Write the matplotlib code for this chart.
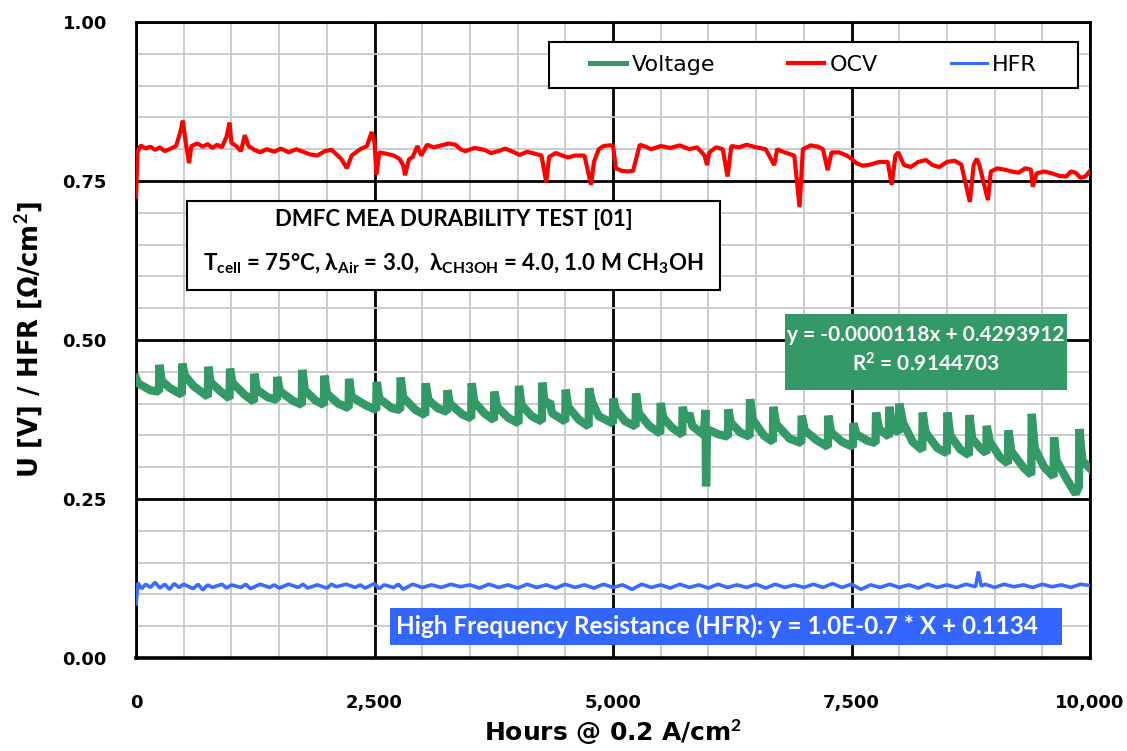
import matplotlib
matplotlib.use("Agg")
import matplotlib.pyplot as plt
from matplotlib.patches import Rectangle
from matplotlib.lines import Line2D
from matplotlib.ticker import MultipleLocator, FuncFormatter

plt.rcParams["font.family"] = ["Lato", "DejaVu Sans"]
plt.rcParams["mathtext.fontset"] = "custom"
plt.rcParams["mathtext.rm"] = "Lato"
plt.rcParams["mathtext.bf"] = "Lato:bold"
plt.rcParams["mathtext.it"] = "Lato:bold"
plt.rcParams["mathtext.default"] = "bf"

# --- data (hours, value) ---
voltage_points = [
    (0, 0.440), (20, 0.432), (150, 0.421), (240, 0.419), (245, 0.461), (270, 0.436),
    (350, 0.425), (480, 0.414), (485, 0.463), (510, 0.445), (600, 0.428), (752, 0.411),
    (758, 0.458), (780, 0.434), (880, 0.420), (980, 0.408), (985, 0.455), (1010, 0.433),
    (1130, 0.415), (1235, 0.403), (1240, 0.447), (1265, 0.422), (1380, 0.410), (1476, 0.406),
    (1481, 0.442), (1505, 0.420), (1640, 0.405), (1738, 0.398), (1743, 0.453), (1770, 0.421),
    (1880, 0.405), (1969, 0.398), (1974, 0.444), (2000, 0.416), (2120, 0.400), (2228, 0.393),
    (2233, 0.439), (2260, 0.411), (2400, 0.398), (2518, 0.390), (2523, 0.434), (2550, 0.408),
    (2680, 0.393), (2769, 0.390), (2774, 0.441), (2800, 0.410), (2930, 0.390), (3031, 0.382),
    (3036, 0.432), (3065, 0.406), (3160, 0.393), (3259, 0.387), (3264, 0.421), (3290, 0.400),
    (3420, 0.383), (3513, 0.377), (3518, 0.432), (3545, 0.403), (3650, 0.385), (3751, 0.374),
    (3756, 0.419), (3785, 0.395), (3900, 0.378), (4009, 0.369), (4014, 0.428), (4040, 0.398),
    (4150, 0.380), (4254, 0.372), (4259, 0.433), (4285, 0.398), (4340, 0.403), (4360, 0.385),
    (4499, 0.372), (4504, 0.422), (4530, 0.395), (4640, 0.375), (4744, 0.364), (4749, 0.424),
    (4780, 0.403), (4850, 0.380), (4998, 0.369), (5003, 0.408), (5030, 0.390), (5130, 0.372),
    (5236, 0.364), (5241, 0.416), (5270, 0.385), (5380, 0.365), (5495, 0.353), (5500, 0.401),
    (5525, 0.378), (5620, 0.362), (5725, 0.351), (5730, 0.395), (5760, 0.372), (5800, 0.385),
    (5830, 0.365), (5950, 0.351), (5970, 0.390), (5975, 0.270), (5985, 0.360), (6100, 0.352),
    (6204, 0.348), (6209, 0.391), (6235, 0.370), (6330, 0.355), (6431, 0.348), (6436, 0.407),
    (6465, 0.375), (6580, 0.350), (6675, 0.340), (6680, 0.395), (6710, 0.368), (6850, 0.345),
    (6973, 0.338), (6978, 0.381), (7010, 0.358), (7130, 0.343), (7252, 0.332), (7257, 0.381),
    (7285, 0.355), (7400, 0.340), (7514, 0.332), (7519, 0.369), (7550, 0.352), (7660, 0.342),
    (7752, 0.338), (7757, 0.386), (7790, 0.360), (7891, 0.348), (7896, 0.395), (7930, 0.360),
    (7996, 0.355), (8001, 0.400), (8040, 0.370), (8140, 0.340), (8241, 0.327), (8246, 0.386),
    (8275, 0.355), (8400, 0.330), (8500, 0.322), (8505, 0.386), (8535, 0.350), (8640, 0.328),
    (8730, 0.319), (8735, 0.382), (8765, 0.345), (8850, 0.330), (8912, 0.322), (8917, 0.365),
    (8950, 0.340), (9060, 0.315), (9139, 0.306), (9144, 0.358), (9175, 0.325), (9300, 0.300),
    (9384, 0.288), (9389, 0.384), (9420, 0.330), (9520, 0.300), (9618, 0.285), (9623, 0.347),
    (9650, 0.310), (9760, 0.280), (9850, 0.258), (9883, 0.270), (9888, 0.360), (9920, 0.310),
    (10000, 0.298),
]

ocv_points = [
    (0, 0.725), (15, 0.795), (50, 0.806), (100, 0.801), (150, 0.804), (200, 0.799),
    (250, 0.803), (300, 0.797), (350, 0.800), (420, 0.805), (470, 0.830), (490, 0.845),
    (520, 0.812), (555, 0.778), (580, 0.805), (640, 0.809), (700, 0.804), (750, 0.808),
    (800, 0.802), (850, 0.807), (900, 0.803), (950, 0.820), (980, 0.842), (1000, 0.810),
    (1050, 0.805), (1100, 0.797), (1140, 0.822), (1180, 0.805), (1240, 0.799), (1300, 0.795),
    (1370, 0.800), (1450, 0.796), (1520, 0.801), (1600, 0.795), (1680, 0.800), (1750, 0.796),
    (1820, 0.792), (1900, 0.790), (1980, 0.797), (2050, 0.799), (2150, 0.785), (2210, 0.770),
    (2260, 0.790), (2350, 0.800), (2420, 0.805), (2470, 0.827), (2500, 0.810), (2520, 0.760),
    (2550, 0.795), (2620, 0.793), (2700, 0.790), (2760, 0.785), (2800, 0.775), (2820, 0.759),
    (2860, 0.784), (2900, 0.788), (2950, 0.805), (2990, 0.790), (3050, 0.807), (3120, 0.803),
    (3200, 0.806), (3280, 0.809), (3350, 0.807), (3400, 0.800), (3450, 0.797), (3550, 0.802),
    (3650, 0.799), (3720, 0.794), (3800, 0.797), (3870, 0.801), (3950, 0.796), (4020, 0.791),
    (4100, 0.796), (4180, 0.793), (4250, 0.790), (4300, 0.748), (4330, 0.788), (4400, 0.794),
    (4450, 0.791), (4530, 0.787), (4600, 0.790), (4700, 0.790), (4770, 0.744), (4800, 0.780),
    (4850, 0.800), (4900, 0.805), (4960, 0.806), (5000, 0.806), (5030, 0.770), (5090, 0.766),
    (5150, 0.765), (5210, 0.766), (5280, 0.807), (5340, 0.804), (5400, 0.800), (5500, 0.805),
    (5600, 0.802), (5700, 0.806), (5800, 0.800), (5880, 0.803), (5960, 0.790), (5985, 0.775),
    (6010, 0.795), (6080, 0.803), (6150, 0.800), (6200, 0.757), (6240, 0.805), (6320, 0.803),
    (6400, 0.807), (6500, 0.803), (6600, 0.800), (6690, 0.775), (6720, 0.800), (6800, 0.795),
    (6900, 0.790), (6955, 0.709), (6990, 0.800), (7070, 0.806), (7150, 0.804), (7200, 0.800),
    (7250, 0.767), (7290, 0.795), (7370, 0.795), (7450, 0.790), (7500, 0.785), (7550, 0.778),
    (7620, 0.774), (7700, 0.776), (7790, 0.780), (7880, 0.780), (7920, 0.744), (7960, 0.790),
    (7990, 0.795), (8050, 0.775), (8120, 0.772), (8200, 0.780), (8280, 0.783), (8350, 0.775),
    (8420, 0.772), (8500, 0.780), (8580, 0.782), (8650, 0.776), (8740, 0.717), (8780, 0.775),
    (8812, 0.785), (8840, 0.775), (8930, 0.720), (8960, 0.765), (9030, 0.770), (9100, 0.768),
    (9180, 0.765), (9250, 0.763), (9320, 0.770), (9380, 0.768), (9400, 0.741), (9440, 0.762),
    (9520, 0.765), (9600, 0.762), (9680, 0.758), (9750, 0.757), (9800, 0.765), (9850, 0.763),
    (9900, 0.755), (9950, 0.757), (10000, 0.766),
]

hfr_points = [
    (0, 0.085), (20, 0.118), (60, 0.109), (100, 0.116), (150, 0.111), (200, 0.119),
    (250, 0.110), (300, 0.116), (350, 0.108), (400, 0.117), (450, 0.111), (500, 0.116),
    (600, 0.109), (650, 0.116), (700, 0.107), (750, 0.115), (800, 0.111), (900, 0.116),
    (950, 0.110), (1000, 0.115), (1100, 0.111), (1150, 0.116), (1200, 0.109), (1300, 0.116),
    (1400, 0.111), (1450, 0.115), (1500, 0.110), (1600, 0.116), (1700, 0.111), (1750, 0.116),
    (1800, 0.110), (1900, 0.115), (2000, 0.110), (2050, 0.116), (2100, 0.112), (2200, 0.116),
    (2300, 0.111), (2350, 0.115), (2400, 0.110), (2500, 0.117), (2550, 0.109), (2600, 0.115),
    (2700, 0.111), (2750, 0.116), (2800, 0.108), (2900, 0.116), (3000, 0.111), (3100, 0.115),
    (3200, 0.111), (3300, 0.116), (3400, 0.112), (3500, 0.115), (3600, 0.110), (3700, 0.116),
    (3800, 0.111), (3900, 0.115), (4000, 0.110), (4100, 0.116), (4200, 0.111), (4300, 0.115),
    (4400, 0.110), (4500, 0.116), (4600, 0.111), (4700, 0.115), (4800, 0.110), (4900, 0.116),
    (5000, 0.111), (5100, 0.115), (5200, 0.108), (5300, 0.116), (5400, 0.111), (5500, 0.115),
    (5600, 0.110), (5700, 0.116), (5800, 0.111), (5900, 0.115), (6000, 0.110), (6100, 0.116),
    (6200, 0.111), (6300, 0.115), (6400, 0.111), (6500, 0.116), (6600, 0.110), (6700, 0.116),
    (6800, 0.111), (6900, 0.115), (7000, 0.111), (7100, 0.116), (7200, 0.111), (7300, 0.117),
    (7400, 0.111), (7500, 0.116), (7600, 0.108), (7700, 0.115), (7800, 0.111), (7900, 0.116),
    (8000, 0.111), (8100, 0.115), (8200, 0.110), (8300, 0.116), (8400, 0.111), (8500, 0.115),
    (8600, 0.111), (8700, 0.116), (8800, 0.112), (8830, 0.136), (8860, 0.113), (8900, 0.116),
    (9000, 0.111), (9100, 0.116), (9200, 0.112), (9300, 0.115), (9400, 0.111), (9500, 0.116),
    (9600, 0.112), (9700, 0.115), (9800, 0.111), (9900, 0.116), (10000, 0.114),
]

series_labels = ["Voltage", "OCV", "HFR"]
series_colors = ["#339966", "#ff0000", "#3a6bff"]

title_line = "DMFC MEA DURABILITY TEST [01]"
cond_line = r"T$_{cell}$ = 75°C, λ$_{Air}$ = 3.0,  λ$_{CH3OH}$ = 4.0, 1.0 M CH$_{3}$OH"
fit_text = "y = -0.0000118x + 0.4293912\n" + r"R$^{2}$ = 0.9144703"
hfr_text = "High Frequency Resistance (HFR): y = 1.0E-0.7 * X + 0.1134"

fig = plt.figure(figsize=(11.27, 7.51), dpi=100)
ax = fig.add_axes([0.1207, 0.1238, 0.8465, 0.8469])

for pts, color, lw in zip([voltage_points, ocv_points, hfr_points], series_colors, [6.0, 3.0, 2.6]):
    xs, ys = zip(*pts)
    ax.plot(xs, ys, color=color, lw=lw, solid_joinstyle="bevel", zorder=3)

ax.set_xlim(0, 10000)
ax.set_ylim(0, 1.0)
ax.xaxis.set_major_locator(MultipleLocator(2500))
ax.xaxis.set_minor_locator(MultipleLocator(500))
ax.yaxis.set_major_locator(MultipleLocator(0.25))
ax.yaxis.set_minor_locator(MultipleLocator(0.05))
ax.xaxis.set_major_formatter(FuncFormatter(lambda v, p: f"{v:,.0f}"))
ax.yaxis.set_major_formatter(FuncFormatter(lambda v, p: f"{v:.2f}"))
ax.set_axisbelow(True)
ax.grid(which="minor", color="#c8c8c8", lw=1.3)
ax.grid(which="major", color="black", lw=2.0)
ax.tick_params(which="both", length=0)
ax.tick_params(axis="x", pad=26)
ax.tick_params(axis="y", pad=21)
for lab in ax.get_xticklabels() + ax.get_yticklabels():
    lab.set_fontweight("bold")
    lab.set_fontfamily("DejaVu Sans")
    lab.set_fontsize(13)
for side, sp in ax.spines.items():
    sp.set_color("black")
    sp.set_linewidth(2.0)
ax.spines["bottom"].set_linewidth(2.6)

ax.set_xlabel(r"Hours @ 0.2 A/cm$^{2}$", fontsize=18, fontweight="bold",
              family="DejaVu Sans", labelpad=4)
ax.set_ylabel(r"U [V] / HFR [Ω/cm$^{2}$]", fontsize=18.5, fontweight="bold",
              family="DejaVu Sans", labelpad=12)

# legend with a separate frame
ax.add_patch(Rectangle((0.4329, 0.8962), 0.5545, 0.0723, transform=ax.transAxes,
                       facecolor="white", edgecolor="black", lw=1.5, zorder=4))
handles = [Line2D([], [], color=c, lw=lw) for c, lw in zip(series_colors, [3.6, 3.0, 2.2])]
leg = ax.legend(handles, series_labels, loc="center", bbox_to_anchor=(0.7102, 0.9324),
                ncol=3, frameon=False, columnspacing=3.3, handlelength=1.6,
                handletextpad=0.25, prop={"family": "DejaVu Sans", "size": 16})
leg.set_zorder(5)

# condition box
ax.add_patch(Rectangle((0.0535, 0.5786), 0.5587, 0.140, transform=ax.transAxes,
                       facecolor="white", edgecolor="black", lw=1.5, zorder=4))
ax.text(0.3328, 0.6887, title_line, transform=ax.transAxes, ha="center", va="center",
        fontsize=16, fontweight="bold", zorder=5)
ax.text(0.3328, 0.619, cond_line, transform=ax.transAxes, ha="center", va="center",
        fontsize=16, fontweight="bold", zorder=5)

# voltage fit box
ax.add_patch(Rectangle((0.680, 0.4214), 0.2956, 0.1195, transform=ax.transAxes,
                       facecolor="#339966", edgecolor="none", zorder=4))
ax.text(0.828, 0.4842, fit_text, transform=ax.transAxes, ha="center", va="center",
        fontsize=15, fontweight="bold", color="white", linespacing=1.4, zorder=5)

# HFR box
ax.add_patch(Rectangle((0.2662, 0.0204), 0.7044, 0.0582, transform=ax.transAxes,
                       facecolor="#3366ff", edgecolor="none", zorder=4))
ax.text(0.6085, 0.0503, hfr_text, transform=ax.transAxes, ha="center", va="center",
        fontsize=17.5, fontweight="bold", color="white", zorder=5)

fig.savefig("out.png", dpi=100)
